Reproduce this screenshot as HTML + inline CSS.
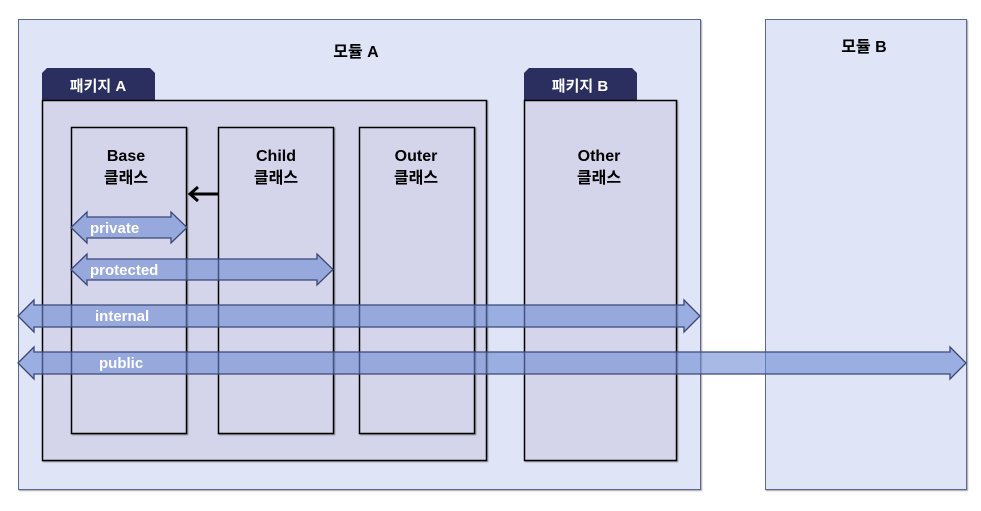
<!DOCTYPE html>
<html><head><meta charset="utf-8"><style>
html,body{margin:0;padding:0;background:#fff;width:981px;height:511px;overflow:hidden}
svg{display:block}
text{font-family:"Liberation Sans","Noto Sans CJK KR",sans-serif;font-weight:bold}
</style></head><body>
<svg width="981" height="511" viewBox="0 0 981 511" xmlns="http://www.w3.org/2000/svg">
<defs><filter id="sh"><feDropShadow dx="1" dy="1" stdDeviation="0.6" flood-color="#000" flood-opacity="0.35"/></filter></defs>
<rect x="18.5" y="19.5" width="682" height="470" fill="#dfe4f6" stroke="#5a6890" stroke-width="1" filter="url(#sh)"/>
<rect x="765.5" y="19.5" width="201" height="470" fill="#dfe4f6" stroke="#5a6890" stroke-width="1" filter="url(#sh)"/>
<text x="356" y="57" font-size="16" text-anchor="middle" fill="#000">모듈 A</text>
<text x="864" y="52" font-size="16" text-anchor="middle" fill="#000">모듈 B</text>
<path d="M42 100 V73 L47 68 H150 L155 73 V100 Z" fill="#2b2f5f"/>
<text x="98" y="91" font-size="15" text-anchor="middle" fill="#fff">패키지 A</text>
<rect x="42.5" y="100.5" width="444" height="360" fill="#d4d4ea" stroke="#000" stroke-width="1.5" filter="url(#sh)"/>
<path d="M524 100 V73 L529 68 H632 L637 73 V100 Z" fill="#2b2f5f"/>
<text x="580" y="91" font-size="15" text-anchor="middle" fill="#fff">패키지 B</text>
<rect x="524.5" y="100.5" width="152" height="360" fill="#d4d4ea" stroke="#000" stroke-width="1.5" filter="url(#sh)"/>
<rect x="71.5" y="127.5" width="115" height="306" fill="#d4d4ea" stroke="#000" stroke-width="1.5" filter="url(#sh)"/>
<rect x="218.5" y="127.5" width="115" height="306" fill="#d4d4ea" stroke="#000" stroke-width="1.5" filter="url(#sh)"/>
<rect x="359.5" y="127.5" width="115" height="306" fill="#d4d4ea" stroke="#000" stroke-width="1.5" filter="url(#sh)"/>
<g font-size="16" text-anchor="middle" fill="#000">
<text x="126" y="161">Base</text><text x="126" y="183">클래스</text>
<text x="276" y="161">Child</text><text x="276" y="183">클래스</text>
<text x="416" y="161">Outer</text><text x="416" y="183">클래스</text>
<text x="599" y="161">Other</text><text x="599" y="183">클래스</text>
</g>
<line x1="218" y1="194" x2="191" y2="194" stroke="#000" stroke-width="3"/>
<path d="M198 187 L190 194 L198 201" fill="none" stroke="#000" stroke-width="3"/>
<g fill="rgba(110,138,212,0.6)" stroke="#3a4878" stroke-width="1.3">
<path d="M71 227.5 L87 212 V217 H171 V212 L187 227.5 L171 243 V238 H87 V243 Z"/>
<path d="M71 269.5 L87 254 V259 H317 V254 L333 269.5 L317 285 V280 H87 V285 Z"/>
<path d="M18 316 L34 300 V305 H684 V300 L700 316 L684 332 V327 H34 V332 Z"/>
<path d="M18 363 L34 347 V352 H950 V347 L966 363 L950 379 V374 H34 V379 Z"/>
</g>
<g font-size="15" fill="#fff">
<text x="90" y="233">private</text>
<text x="90" y="275">protected</text>
<text x="95" y="321">internal</text>
<text x="99" y="368">public</text>
</g>
</svg>
</body></html>
